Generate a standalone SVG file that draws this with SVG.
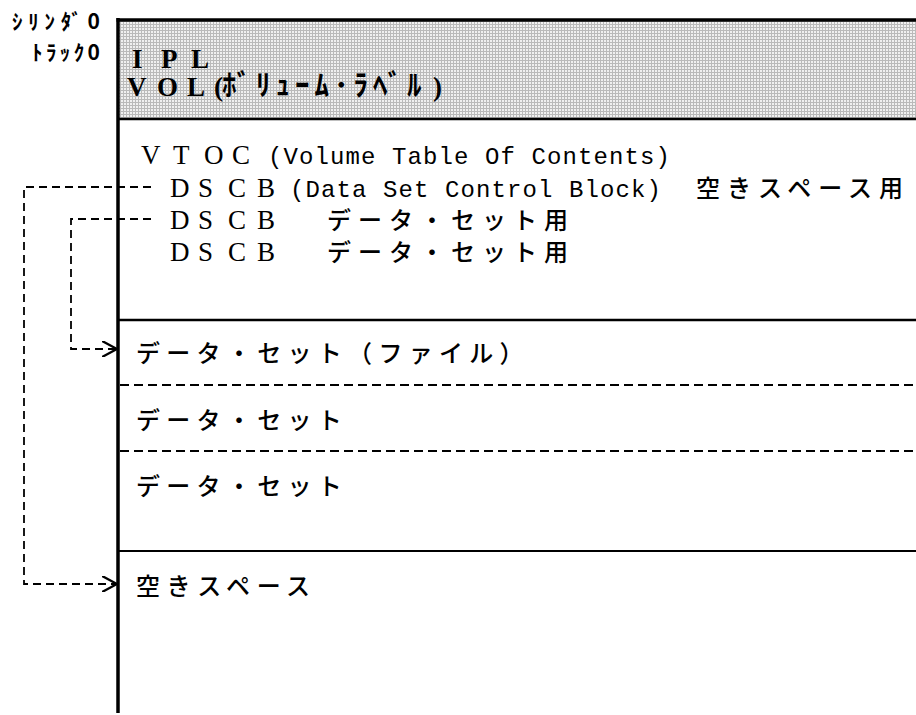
<svg xmlns="http://www.w3.org/2000/svg" width="916" height="715" viewBox="0 0 916 715">
<style>
.frame{stroke:#000;fill:none}
.dash{stroke:#000;stroke-width:2;stroke-dasharray:9 5;fill:none}
.conn{stroke:#000;stroke-width:1.8;stroke-dasharray:8 5;fill:none}
.ser{font-family:"Liberation Serif","Noto Serif CJK JP",serif;font-size:27px;fill:#000}
.mono{font-family:"Liberation Mono","DejaVu Sans Mono",monospace;font-size:24px;letter-spacing:1.1px;fill:#000}
.jp{font-family:"Noto Sans CJK JP","Noto Sans",sans-serif;font-size:24px;font-weight:500;fill:#000}
.hw{font-family:"Noto Sans CJK JP","Noto Sans",sans-serif;font-weight:700;fill:#000}
</style>
<defs>
<pattern id="dots" width="3" height="3" patternUnits="userSpaceOnUse">
<rect width="3" height="3" fill="#f0f0f0"/>
<rect width="3" height="1" fill="#bababa"/>
<rect width="1" height="3" fill="#bababa"/>
</pattern>
<marker id="arr" viewBox="0 0 15 16" refX="15" refY="8" markerWidth="15" markerHeight="16" markerUnits="userSpaceOnUse" orient="auto">
<path d="M0,0 L15,8 L0,16" fill="none" stroke="#000" stroke-width="2.4"/>
</marker>
</defs>

<g id="labels">
<text class="hw" x="12" y="29" font-size="21" textLength="88" lengthAdjust="spacing">ｼﾘﾝﾀﾞ0</text>
<text class="hw" x="32" y="60" font-size="21" textLength="68" lengthAdjust="spacing">ﾄﾗｯｸ0</text>
</g>

<g id="ipl-vol">
<rect x="118" y="20" width="798" height="99" fill="url(#dots)"/>
<text class="ser" font-weight="bold" font-size="28" x="132 161 191" y="68">IPL</text>
<text class="ser" font-weight="bold" font-size="28" x="127 157 187 214" y="96">VOL(</text>
<text class="hw" x="222" y="96" font-size="29" letter-spacing="5">ﾎﾞﾘｭｰﾑ･ﾗﾍﾞﾙ</text>
<text class="ser" font-weight="bold" font-size="28" x="433" y="96">)</text>
</g>

<g id="vtoc">
<text class="ser" x="141 173 204 232" y="164">VTOC</text>
<text class="mono" x="268" y="164">(Volume Table Of Contents)</text>
<text class="ser" x="170 198 228 257" y="197">DSCB</text>
<text class="mono" x="290" y="197">(Data Set Control Block)</text>
<text class="jp" x="696" y="197" letter-spacing="7">空きスペース用</text>
<text class="ser" x="170 198 228 257" y="229">DSCB</text>
<text class="jp" x="327" y="229" letter-spacing="7">データ・セット用</text>
<text class="ser" x="170 198 228 257" y="261">DSCB</text>
<text class="jp" x="327" y="261" letter-spacing="7">データ・セット用</text>
</g>

<g id="dataset1">
<text class="jp" x="136" y="362" letter-spacing="6.3">データ・セット（ファイル）</text>
</g>
<g id="dataset2">
<text class="jp" x="136" y="429" letter-spacing="6.3">データ・セット</text>
</g>
<g id="dataset3">
<text class="jp" x="136" y="495" letter-spacing="6.3">データ・セット</text>
</g>
<g id="free-space">
<text class="jp" x="136" y="595" letter-spacing="6.6">空きスペース</text>
</g>

<g id="frame">
<line class="frame" x1="118" y1="18" x2="118" y2="713" stroke-width="3.5"/>
<line class="frame" x1="116.5" y1="20" x2="916" y2="20" stroke-width="3.5"/>
<line class="frame" x1="118" y1="119" x2="916" y2="119" stroke-width="2.5"/>
<line class="frame" x1="118" y1="320" x2="916" y2="320" stroke-width="2.5"/>
<line class="dash" x1="120" y1="385" x2="916" y2="385"/>
<line class="dash" x1="120" y1="451" x2="916" y2="451"/>
<line class="frame" x1="118" y1="551" x2="916" y2="551" stroke-width="2"/>
</g>

<g id="connectors">
<path class="conn" d="M151,187 H24 V584 H117" marker-end="url(#arr)"/>
<path class="conn" d="M151,219 H71 V349 H117" marker-end="url(#arr)"/>
</g>
</svg>
